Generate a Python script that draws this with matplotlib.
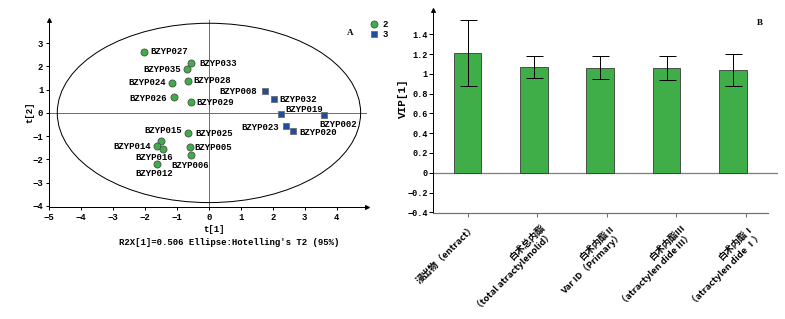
import numpy as np
import matplotlib
matplotlib.use('Agg')
import matplotlib.pyplot as plt
from matplotlib.patches import Ellipse
from matplotlib.lines import Line2D
from matplotlib.transforms import ScaledTranslation

# ---------------- Panel A data (PCA scores) ----------------
group2_names = ['BZYP027', 'BZYP033', 'BZYP035', 'BZYP028', 'BZYP024', 'BZYP026',
                'BZYP029', 'BZYP025', 'BZYP015', 'BZYP014', 'BZYP016', 'BZYP005',
                'BZYP006', 'BZYP012']
group2_t1 = [-2.04, -0.56, -0.70, -0.67, -1.17, -1.10, -0.56, -0.65, -1.49, -1.64,
             -1.45, -0.60, -0.57, -1.64]
group2_t2 = [2.64, 2.16, 1.88, 1.37, 1.27, 0.69, 0.45, -0.85, -1.22, -1.43,
             -1.54, -1.48, -1.82, -2.19]
group3_names = ['BZYP008', 'BZYP032', 'BZYP019', 'BZYP002', 'BZYP023', 'BZYP020']
group3_t1 = [1.76, 2.04, 2.26, 3.61, 2.40, 2.62]
group3_t2 = [0.94, 0.58, -0.03, -0.11, -0.55, -0.79]
legend_labels = ['2', '3']
ellipse_t1_radius = 4.75
ellipse_t2_radius = 3.86
r2x_value = 0.506
xticks_a = list(range(-5, 5))
yticks_a = list(range(-4, 4))

# ---------------- Panel B data (VIP) ----------------
vip_categories = ['浸出物（entract）',
                  '白术总内酯\n（total atractylenolid）',
                  '白术内酯Ⅱ\nVar ID（Primary）',
                  '白术内酯Ⅲ\n（atractylen dide Ⅲ）',
                  '白术内酯Ⅰ\n（atractylen dide Ⅰ）']
vip_values = [1.21, 1.07, 1.06, 1.06, 1.04]
vip_errors = [0.33, 0.115, 0.115, 0.125, 0.165]
yticks_b = [-0.4, -0.2, 0, 0.2, 0.4, 0.6, 0.8, 1.0, 1.2, 1.4]

# ---------------- layout (label offsets in px: dx, dy, ha) ----------------
label_offsets = {
    'BZYP027': (6.7, 0, 'left'), 'BZYP033': (8, -0.6, 'left'),
    'BZYP035': (-5.7, 0, 'right'), 'BZYP028': (6.3, 1, 'left'),
    'BZYP024': (-6, 0.6, 'right'), 'BZYP026': (-7, -1.6, 'right'),
    'BZYP029': (5, -0.4, 'left'), 'BZYP008': (-7.7, -0.7, 'right'),
    'BZYP032': (5.3, 0, 'left'), 'BZYP019': (4, 4.6, 'left'),
    'BZYP002': (-5, -8.7, 'left'), 'BZYP023': (-6.4, -1.7, 'right'),
    'BZYP020': (6.3, -1.3, 'left'), 'BZYP025': (6.7, -0.7, 'left'),
    'BZYP015': (20.4, 10.3, 'right'), 'BZYP014': (-5.7, 0, 'right'),
    'BZYP016': (-27.7, -9, 'left'), 'BZYP005': (5, 0, 'left'),
    'BZYP006': (-19.7, -10.6, 'left'), 'BZYP012': (-21.7, -9.4, 'left'),
}

plt.rcParams['font.family'] = ['Liberation Mono', 'Noto Sans CJK SC']
plt.rcParams['font.weight'] = 'bold'
plt.rcParams['axes.unicode_minus'] = True

W, H, DPI = 785, 319, 72
fig = plt.figure(figsize=(W / DPI, H / DPI), dpi=DPI)


def px_rect(l, t, r, b):
    return [l / W, 1 - b / H, (r - l) / W, (b - t) / H]


GREEN = '#3fae49'
BLUE = '#1f4e9e'

# ================= Panel A =================
axA = fig.add_axes(px_rect(49.3, 20, 366.7, 207))
axA.set_xlim(-5, 4.94)
axA.set_ylim(-4.05, 4.0)
for s in ['top', 'right']:
    axA.spines[s].set_visible(False)
for s in ['left', 'bottom']:
    axA.spines[s].set_linewidth(1)
axA.plot(1, 0, '>k', ms=4, transform=axA.transAxes, clip_on=False)
axA.plot(0, 1, '^k', ms=4, transform=axA.transAxes, clip_on=False)
axA.axvline(0, color='#707070', lw=1, zorder=1)
axA.axhline(0, color='#707070', lw=1, zorder=1)
axA.add_patch(Ellipse((0, 0), 2 * ellipse_t1_radius, 2 * ellipse_t2_radius,
                      fill=False, ec='black', lw=1, zorder=2))
axA.scatter(group2_t1, group2_t2, s=50, c=GREEN, edgecolors='#4a4a4a',
            linewidths=0.8, zorder=3)
axA.scatter(group3_t1, group3_t2, s=45, marker='s', c=BLUE, edgecolors='#6a6a6a',
            linewidths=0.8, zorder=3)
for names, xs, ys in [(group2_names, group2_t1, group2_t2),
                      (group3_names, group3_t1, group3_t2)]:
    for n, xv, yv in zip(names, xs, ys):
        dx, dy, ha = label_offsets[n]
        axA.annotate(n, (xv, yv), xytext=(dx, dy), textcoords='offset points',
                     ha=ha, va='center', fontsize=9, zorder=4)
axA.set_xticks(xticks_a)
axA.set_yticks(yticks_a)
axA.tick_params(direction='out', length=3, width=1, labelsize=9, pad=3)

fig.text(30 / W, 1 - 112 / H, 't[2]', rotation=90, ha='center', va='center', fontsize=9)
fig.text(214 / W, 1 - 230 / H, 't[1]', ha='center', va='center', fontsize=9)
fig.text(229 / W, 1 - 242.7 / H,
         f"R2X[1]={r2x_value:.3f} Ellipse:Hotelling's T2 (95%)",
         ha='center', va='center', fontsize=9)
fig.text(350 / W, 1 - 33 / H, 'A', ha='center', va='center', fontsize=9,
         family='Liberation Serif')
handles = [Line2D([], [], marker='o', ls='', ms=7, mfc=GREEN, mec='#4a4a4a', mew=0.8),
           Line2D([], [], marker='s', ls='', ms=6.5, mfc=BLUE, mec='#6a6a6a', mew=0.8)]
fig.legend(handles, legend_labels, loc='upper left', bbox_to_anchor=(369 / W, 1 - 20 / H),
           frameon=False, handlelength=1.0, handletextpad=0.5, labelspacing=0.15,
           borderpad=0, borderaxespad=0, fontsize=9)

# ================= Panel B =================
axB = fig.add_axes(px_rect(433, 10, 778, 212.7))
xb = np.arange(len(vip_values))
axB.bar(xb, vip_values, width=0.42, color=GREEN, edgecolor='#333333', linewidth=0.8,
        yerr=vip_errors, capsize=8.5,
        error_kw=dict(ecolor='black', elinewidth=1, capthick=1), zorder=2)
axB.set_xlim(-0.52, 4.68)
axB.set_ylim(-0.404, 1.645)
axB.axhline(0, color='#808080', lw=1.3, zorder=1)
for s in ['top', 'right']:
    axB.spines[s].set_visible(False)
axB.spines['bottom'].set_color('#707070')
axB.spines['bottom'].set_linewidth(1.2)
axB.spines['bottom'].set_bounds(-0.52, 4.53)
axB.spines['left'].set_linewidth(1)
axB.plot(0, 1, '^k', ms=4, transform=axB.transAxes, clip_on=False)
axB.set_yticks(yticks_b)
axB.set_yticklabels([f'{v:g}'.replace('-', '\u2212') for v in yticks_b])
axB.tick_params(axis='y', direction='out', length=4, width=1, labelsize=8.5, pad=1)
axB.set_xticks(xb * 1.05)
axB.set_xticklabels(vip_categories, rotation=45, ha='right', va='top',
                    rotation_mode='anchor', fontsize=9.3,
                    family=['Noto Sans CJK SC'], multialignment='right',
                    linespacing=1.15)
axB.tick_params(axis='x', direction='out', length=4, width=1, color='#707070', pad=6)
for lab in axB.get_xticklabels():
    lab.set_transform(lab.get_transform() + ScaledTranslation(4 / 72, 0, fig.dpi_scale_trans))

fig.text(403 / W, 1 - 98 / H, 'VIP[1]', rotation=90, ha='center', va='center', fontsize=11)
fig.text(760 / W, 1 - 23 / H, 'B', ha='center', va='center', fontsize=9,
         family='Liberation Serif')

fig.savefig('out.png', dpi=DPI)
